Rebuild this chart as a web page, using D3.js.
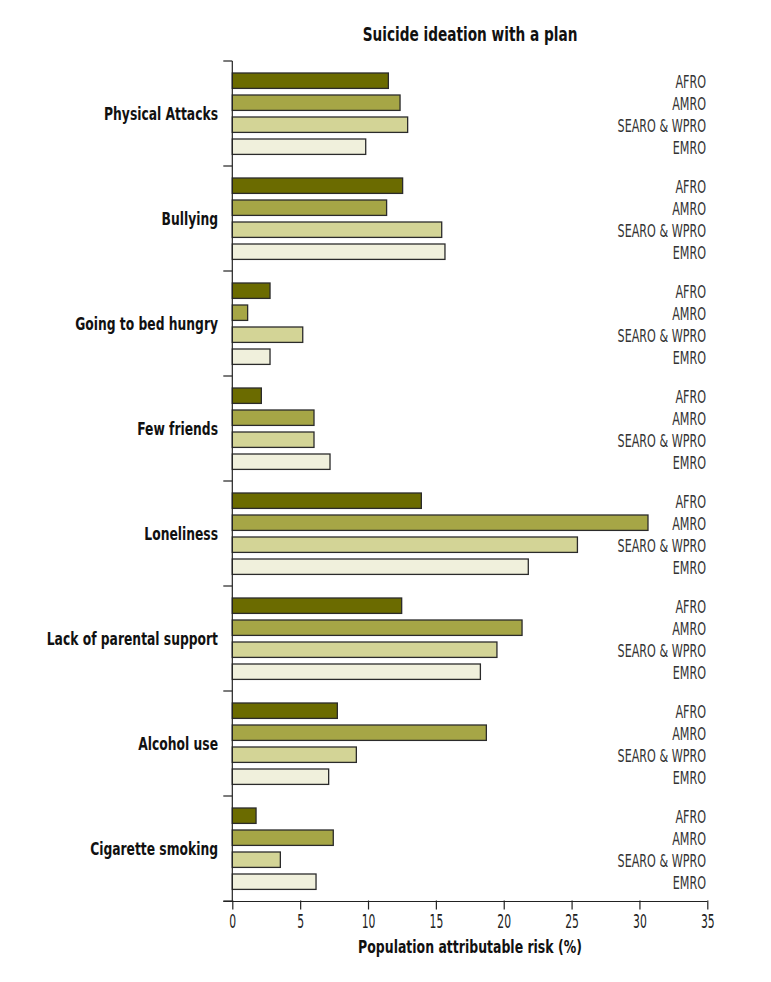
<!DOCTYPE html>
<html><head><meta charset="utf-8">
<script src="https://cdn.jsdelivr.net/npm/d3@7"></script>
<style>
body{margin:0;background:#fff;}
text{font-family:"DejaVu Sans Condensed","Liberation Sans Narrow",sans-serif;}
</style></head>
<body><svg id="c" width="771" height="982"></svg>
<script>
const categories = ["Physical Attacks","Bullying","Going to bed hungry","Few friends","Loneliness","Lack of parental support","Alcohol use","Cigarette smoking"];
const series = ["AFRO","AMRO","SEARO & WPRO","EMRO"];
const afro  = [11.5, 12.55, 2.78, 2.14, 13.93, 12.48, 7.74, 1.75];
const amro  = [12.36, 11.37, 1.13, 6.02, 30.63, 21.35, 18.72, 7.44];
const searo = [12.92, 15.43, 5.19, 6.02, 25.43, 19.5, 9.14, 3.54];
const emro  = [9.83, 15.67, 2.78, 7.2, 21.81, 18.28, 7.1, 6.17];
const xTicks = [0,5,10,15,20,25,30,35];
const colors = ["#6b6b00","#a6a646","#d3d496","#f0f0dc"];

const values = [afro, amro, searo, emro];
const svg = d3.select("#c");
const x = d3.scaleLinear().domain([0,35]).range([232.3,707.3]);
const y = d3.scaleBand().domain(categories).range([61,901]);
const ys = d3.scaleBand().domain(series).range([12,93.4]).paddingInner(0.3);

function condense(sel, f){
  sel.each(function(){
    const w = this.getComputedTextLength();
    d3.select(this).attr("textLength", w*f).attr("lengthAdjust","spacingAndGlyphs");
  });
}

categories.forEach((cat,i)=>{
  const g = svg.append("g").attr("transform",`translate(0,${y(cat)})`);
  series.forEach((s,j)=>{
    g.append("rect")
      .attr("x",x(0)).attr("y",ys(s))
      .attr("width",x(values[j][i])-x(0)).attr("height",ys.bandwidth())
      .attr("fill",colors[j]).attr("stroke","#2b2b2b").attr("stroke-width",1.3);
    g.append("text").attr("x",706).attr("y",ys(s)+ys.bandwidth()/2)
      .attr("dy","0.4em").attr("text-anchor","end")
      .attr("font-size",17).attr("font-weight",300).attr("fill","#333").text(s)
      .call(condense,0.73);
  });
  svg.append("text").attr("x",218).attr("y",y(cat)+y.bandwidth()/2)
    .attr("dy","0.36em").attr("text-anchor","end")
    .attr("font-size",18.5).attr("font-weight","bold").attr("fill","#111").text(cat)
    .call(condense,0.74);
});

const yAxisG = svg.append("g").attr("transform",`translate(${x(0)},0)`);
yAxisG.append("line").attr("x1",0).attr("x2",0).attr("y1",61).attr("y2",901).attr("stroke","#222").attr("stroke-width",1.2);
const bounds = categories.map(c=>y(c)).concat([901]);
yAxisG.selectAll("line.t").data(bounds).join("line").attr("class","t")
  .attr("x1",-9).attr("x2",0).attr("y1",d=>d).attr("y2",d=>d).attr("stroke","#222").attr("stroke-width",1.2);

const xAxis = d3.axisBottom(x).tickValues(xTicks).tickSize(9).tickSizeOuter(0);
const xg = svg.append("g").attr("transform","translate(0,901.5)").call(xAxis);
xg.attr("font-family",null).attr("font-size",null);
xg.select(".domain").attr("d",`M${x(0)-9},0H${x(35)}`).attr("stroke","#222").attr("stroke-width",1.2);
xg.selectAll(".tick line").attr("y1",-1).attr("y2",8).attr("stroke","#222").attr("stroke-width",1.2);
xg.selectAll(".tick text").attr("font-size",20).attr("font-weight",300).attr("fill","#222").attr("y",12)
  .call(condense,0.6);

svg.append("text").attr("x",470).attr("y",953).attr("text-anchor","middle")
  .attr("font-size",18.5).attr("font-weight","bold").attr("fill","#111").text("Population attributable risk (%)")
  .call(condense,0.75);
svg.append("text").attr("x",470).attr("y",41).attr("text-anchor","middle")
  .attr("font-size",19).attr("font-weight","bold").attr("fill","#111").text("Suicide ideation with a plan")
  .call(condense,0.8);
</script></body></html>
